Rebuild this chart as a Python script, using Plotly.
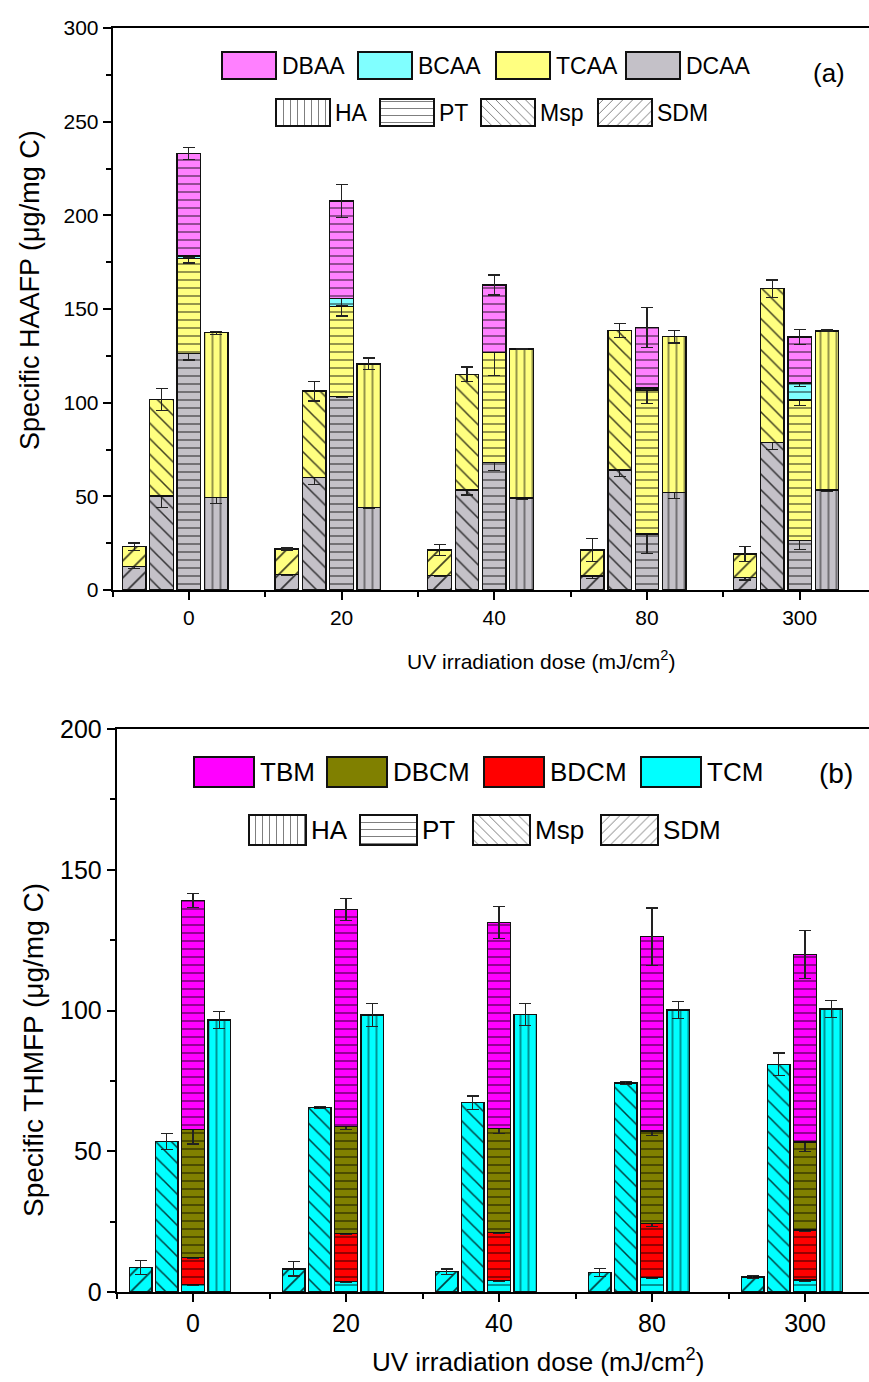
import plotly.graph_objects as go

W, H = 869, 1382
FONT = "Arial, 'Liberation Sans', Helvetica, sans-serif"

doses = ["0", "20", "40", "80", "300"]

# ---------------- (a) specific HAAFP (µg/mg C), layers bottom -> top ----------------
sdm_dcaa = [12.4, 8.4, 7.7, 7.5, 6.8]
sdm_tcaa = [10.7, 13.5, 13.7, 13.9, 12.4]
msp_dcaa = [50.2, 60.0, 53.4, 64.1, 78.7]
msp_tcaa = [51.6, 46.2, 61.8, 74.4, 82.2]
pt_dcaa = [126.4, 103.2, 68.2, 29.9, 26.5]
pt_tcaa = [50.7, 48.1, 58.5, 76.9, 75.0]
pt_bcaa = [1.2, 4.4, None, 1.0, 9.0]
pt_dbaa = [54.8, 52.0, 36.1, 32.2, 24.5]
ha_dcaa = [49.3, 44.1, 49.1, 52.1, 53.4]
ha_tcaa = [88.1, 76.6, 79.6, 83.2, 84.9]

sdm_dcaa_sd = [1.0, 0.5, 0.5, 1.2, 1.5]
sdm_tcaa_sd = [2.0, 0.5, 2.8, 6.0, 4.0]
msp_dcaa_sd = [6.0, 3.6, 2.7, 3.6, 3.6]
msp_tcaa_sd = [5.8, 5.3, 3.8, 3.9, 4.6]
pt_dcaa_sd = [3.6, 0.5, 4.4, 10.2, 5.0]
pt_tcaa_sd = [2.5, 5.0, 12.0, 7.3, 3.0]
pt_bcaa_sd = [0.5, 4.0, None, 0.5, 2.0]
pt_dbaa_sd = [3.2, 8.8, 5.3, 10.6, 4.0]
ha_dcaa_sd = [3.0, 0.5, 1.0, 3.1, 1.0]
ha_tcaa_sd = [0.8, 3.1, 0.3, 3.4, 0.5]

# ---------------- (b) specific THMFP (µg/mg C), layers bottom -> top ----------------
sdm_tcm = [8.8, 8.2, 7.2, 7.0, 5.3]
msp_tcm = [53.4, 65.6, 67.2, 74.2, 80.9]
pt_tcm = [2.7, 3.7, 4.0, 5.1, 4.3]
pt_bdcm = [9.6, 17.1, 17.1, 19.3, 17.7]
pt_dbcm = [45.5, 37.9, 37.0, 32.8, 31.3]
pt_tbm = [81.2, 77.2, 73.2, 69.0, 66.7]
ha_tcm = [96.6, 98.4, 98.6, 100.2, 100.5]

sdm_tcm_sd = [2.5, 2.5, 1.0, 1.4, 0.6]
msp_tcm_sd = [2.8, 0.3, 2.4, 0.6, 4.0]
pt_tcm_sd = [0.3, 0.3, 0.3, 0.3, 0.5]
pt_bdcm_sd = [0.3, 0.5, 0.3, 1.0, 0.5]
pt_dbcm_sd = [5.2, 1.1, 1.8, 1.7, 3.5]
pt_tbm_sd = [2.5, 3.8, 5.6, 10.2, 8.5]
ha_tcm_sd = [3.1, 4.1, 3.8, 3.1, 3.0]

# species colours
C_DBAA, C_BCAA, C_TCAA, C_DCAA = "#FF80FF", "#80FFFF", "#FFFF80", "#C4C1C8"
C_TBM, C_DBCM, C_BDCM, C_TCM = "#FF00FF", "#808000", "#FF0000", "#00FFFF"

# hatch per precursor source
HATCH = {"HA": "|", "PT": "-", "Msp": "\\", "SDM": "/"}
HSIZE = {"HA": 8, "PT": 8, "Msp": 11, "SDM": 12}

fig = go.Figure()


def add_stack(xa, ya, source, offset, width, layers):
    for values, errors, color in layers:
        fig.add_trace(go.Bar(
            x=[i + offset for i in range(len(doses))], y=values, width=width,
            xaxis=xa, yaxis=ya, showlegend=False, hoverinfo="skip",
            marker=dict(color=color, line=dict(color="#111", width=1.3),
                        pattern=dict(shape=HATCH[source], fillmode="overlay",
                                     bgcolor=color, fgcolor="black", fgopacity=0.75,
                                     size=HSIZE[source], solidity=0.14)),
            error_y=dict(type="data", array=errors, visible=True,
                         color="#222", thickness=1.2, width=6),
        ))


# panel (a)
wa, sa = 0.154, 0.179
add_stack("x", "y", "SDM", -2 * sa + 0.0, wa,
          [(sdm_dcaa, sdm_dcaa_sd, C_DCAA), (sdm_tcaa, sdm_tcaa_sd, C_TCAA)])
add_stack("x", "y", "Msp", -sa, wa,
          [(msp_dcaa, msp_dcaa_sd, C_DCAA), (msp_tcaa, msp_tcaa_sd, C_TCAA)])
add_stack("x", "y", "PT", 0.0, wa,
          [(pt_dcaa, pt_dcaa_sd, C_DCAA), (pt_tcaa, pt_tcaa_sd, C_TCAA),
           (pt_bcaa, pt_bcaa_sd, C_BCAA), (pt_dbaa, pt_dbaa_sd, C_DBAA)])
add_stack("x", "y", "HA", sa, wa,
          [(ha_dcaa, ha_dcaa_sd, C_DCAA), (ha_tcaa, ha_tcaa_sd, C_TCAA)])

# panel (b)
wb, sb = 0.147, 0.171
add_stack("x2", "y2", "SDM", -2 * sb, wb, [(sdm_tcm, sdm_tcm_sd, C_TCM)])
add_stack("x2", "y2", "Msp", -sb, wb, [(msp_tcm, msp_tcm_sd, C_TCM)])
add_stack("x2", "y2", "PT", 0.0, wb,
          [(pt_tcm, pt_tcm_sd, C_TCM), (pt_bdcm, pt_bdcm_sd, C_BDCM),
           (pt_dbcm, pt_dbcm_sd, C_DBCM), (pt_tbm, pt_tbm_sd, C_TBM)])
add_stack("x2", "y2", "HA", sb, wb, [(ha_tcm, ha_tcm_sd, C_TCM)])

# ---------------- legend keys drawn on a full-page pixel overlay ----------------
annotations = []


def key_row(names, fills, shapes, lefts, top, bottom, boxw, text_gap, fsize):
    fig.add_trace(go.Bar(
        x=[l + boxw / 2 for l in lefts], y=[bottom - top] * len(lefts),
        base=[top] * len(lefts), width=[boxw] * len(lefts),
        xaxis="x3", yaxis="y3", showlegend=False, hoverinfo="skip",
        marker=dict(color=fills, line=dict(color="#111", width=1.2),
                    pattern=dict(shape=shapes, fillmode="overlay", bgcolor=fills,
                                 fgcolor="black", fgopacity=0.7, size=7, solidity=0.14)),
    ))
    for name, l in zip(names, lefts):
        annotations.append(dict(
            x=l + boxw + text_gap, y=(top + bottom) / 2, xref="x3", yref="y3",
            text=name, showarrow=False, xanchor="left", yanchor="middle",
            font=dict(family=FONT, size=fsize, color="black")))


src_names = ["HA", "PT", "Msp", "SDM"]
src_shapes = [HATCH[s] for s in src_names]

key_row(["DBAA", "BCAA", "TCAA", "DCAA"], [C_DBAA, C_BCAA, C_TCAA, C_DCAA],
        ["", "", "", ""], [222, 358, 496, 626], 52, 79, 54, 4, 23)
key_row(src_names, ["white"] * 4, src_shapes, [276, 380, 481, 598], 99, 126, 54, 3, 23)

key_row(["TBM", "DBCM", "BDCM", "TCM"], [C_TBM, C_DBCM, C_BDCM, C_TCM],
        ["", "", "", ""], [194, 327, 484, 641], 757, 787, 60, 4, 26)
key_row(src_names, ["white"] * 4, src_shapes, [249, 360, 473, 601], 815, 845, 57, 3, 26)

# panel letters and axis titles
annotations += [
    dict(x=829, y=73, text="(a)", font=dict(size=26)),
    dict(x=836, y=773, text="(b)", font=dict(size=28)),
    dict(x=541, y=660, text="UV irradiation dose (mJ/cm<sup>2</sup>)", font=dict(size=21)),
    dict(x=538, y=1360, text="UV irradiation dose (mJ/cm<sup>2</sup>)", font=dict(size=26)),
    dict(x=30, y=290, text="Specific HAAFP (\u03bcg/mg C)", textangle=-90, font=dict(size=27)),
    dict(x=33, y=1050, text="Specific THMFP (\u03bcg/mg C)", textangle=-90, font=dict(size=28)),
]
for a in annotations:
    a.setdefault("xref", "x3")
    a.setdefault("yref", "y3")
    a.setdefault("showarrow", False)
    a["font"] = dict(family=FONT, color="black", size=a["font"]["size"])

# ---------------- axes ----------------
ya0, ya1 = 590, 28      # panel (a) plot area, pixel rows
yb0, yb1 = 1292, 729    # panel (b) plot area, pixel rows
xa_left, xb_left = 112.5, 116.5
step_a, step_b = 152.7, 153.0


def xaxis(left, step, fsize, anchor):
    return dict(
        domain=[left / W, 1.0], range=[-0.5, -0.5 + (W - left) / step],
        tickmode="array", tickvals=list(range(len(doses))), ticktext=doses,
        ticks="outside", ticklen=8, tickwidth=1.5, tickcolor="black",
        minor=dict(tickmode="linear", tick0=0.5, dtick=1, ticks="outside",
                   ticklen=5, tickwidth=1.5, tickcolor="black"),
        showline=True, linecolor="black", linewidth=1.5, mirror=True,
        showgrid=False, zeroline=False, automargin=False, anchor=anchor,
        tickfont=dict(family=FONT, size=fsize, color="black"),
    )


def yaxis(bottom, top, vmax, fsize, anchor):
    return dict(
        domain=[(H - bottom) / H, (H - top) / H], range=[0, vmax],
        tickmode="linear", tick0=0, dtick=50,
        ticks="outside", ticklen=8, tickwidth=1.5, tickcolor="black",
        minor=dict(tickmode="linear", tick0=0, dtick=25, ticks="outside",
                   ticklen=5, tickwidth=1.5, tickcolor="black"),
        showline=True, linecolor="black", linewidth=1.5, mirror=False,
        showgrid=False, zeroline=False, automargin=False, anchor=anchor,
        tickfont=dict(family=FONT, size=fsize, color="black"),
    )


fig.update_layout(
    width=W, height=H, margin=dict(l=0, r=0, t=0, b=0),
    paper_bgcolor="white", plot_bgcolor="rgba(0,0,0,0)",
    barmode="stack", showlegend=False,
    xaxis=xaxis(xa_left, step_a, 21, "y"),
    yaxis=yaxis(ya0, ya1, 300, 21, "x"),
    xaxis2=xaxis(xb_left, step_b, 25, "y2"),
    yaxis2=yaxis(yb0, yb1, 200, 25, "x2"),
    xaxis3=dict(domain=[0, 1], range=[0, W], visible=False, anchor="y3", fixedrange=True),
    yaxis3=dict(domain=[0, 1], range=[H, 0], visible=False, anchor="x3", fixedrange=True),
    annotations=annotations,
)

fig.write_html("out.html")
